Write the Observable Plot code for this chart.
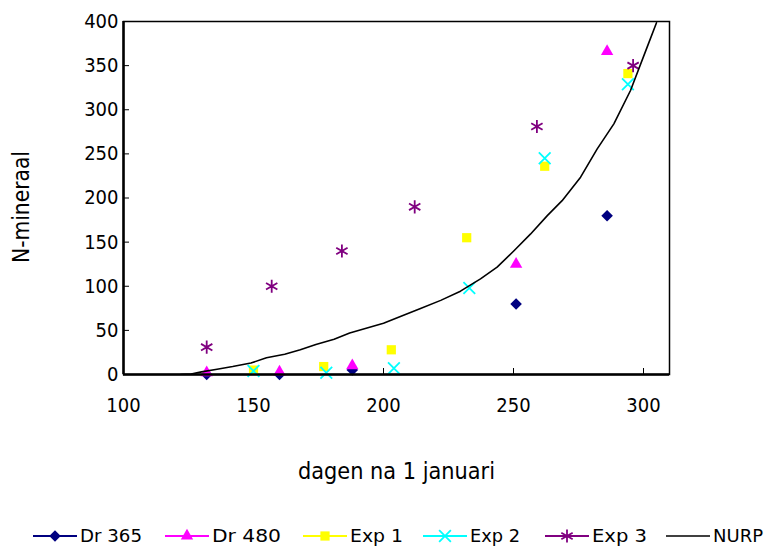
<!DOCTYPE html>
<html>
<head>
<meta charset="utf-8">
<script src="https://cdn.jsdelivr.net/npm/d3@7"></script>
<script src="https://cdn.jsdelivr.net/npm/@observablehq/plot@0.6"></script>
<style>
  body { margin: 0; background: #fff; }
  #wrap { position: relative; width: 764px; height: 546px; overflow: hidden; }
  #legend { position: absolute; left: 0; top: 506px; }
</style>
</head>
<body>
<div id="wrap"></div>
<script>
const FONT = "'DejaVu Sans Condensed', 'DejaVu Sans', sans-serif";

// ---- data ----
const dr365Days = [132, 160, 188, 251, 286];
const dr365Vals = [0, 0, 5, 80, 180];
const dr480Days = [132, 160, 188, 251, 286];
const dr480Vals = [2, 3, 10, 125, 366];
const exp1Days = [150, 177, 203, 232, 262, 294];
const exp1Vals = [5, 9, 28, 155, 236, 341];
const exp2Days = [150, 178, 204, 233, 262, 294];
const exp2Vals = [4, 2, 7, 98, 245, 329];
const exp3Days = [132, 157, 184, 212, 259, 296];
const exp3Vals = [31, 100, 140, 190, 281, 350];
const nurpDays = [122, 126, 130, 136, 142, 149, 155, 162, 168, 174, 181, 187, 194, 200, 206.5, 214, 222, 229.6, 237.3, 243.7, 250, 256.5, 263, 268.7, 275.8, 282.2, 288.6, 295, 301.4, 305];
const nurpVals = [0, 0.5, 3, 6, 9, 13, 19, 23, 28, 34, 40, 47, 53, 58, 65.7, 74.4, 84, 94.4, 108.4, 121.6, 139.7, 159, 180, 197, 223.6, 255.7, 284, 321.8, 371, 398.5];
const xTicks = [100, 150, 200, 250, 300];
const yTicks = [0, 50, 100, 150, 200, 250, 300, 350, 400];

const series = [
  {name: "Dr 365", days: dr365Days, vals: dr365Vals, symbol: "diamond2", color: "#000080", filled: true, r: 5.2},
  {name: "Dr 480", days: dr480Days, vals: dr480Vals, symbol: "triangle", color: "#FF00FF", filled: true, r: 4.6},
  {name: "Exp 1", days: exp1Days, vals: exp1Vals, symbol: "square", color: "#FFFF00", filled: true, r: 5.2},
  {name: "Exp 2", days: exp2Days, vals: exp2Vals, symbol: "times", color: "#00FFFF", filled: false, r: 5.4},
  {name: "Exp 3", days: exp3Days, vals: exp3Vals, symbol: "asterisk", color: "#800080", filled: false, r: 6.2}
];
const toRows = s => s.days.map((d, i) => ({day: d, val: s.vals[i]}));
const nurp = nurpDays.map((d, i) => ({day: d, val: nurpVals[i]}));

const dotMarks = series.map(s => Plot.dot(toRows(s), {
  x: "day", y: "val", symbol: () => s.symbol, r: s.r,
  fill: s.filled ? s.color : "none",
  stroke: s.filled ? "none" : s.color,
  strokeWidth: s.filled ? 0 : 1.8
}));

const chart = Plot.plot({
  width: 764, height: 546,
  marginLeft: 123, marginRight: 95, marginTop: 21, marginBottom: 172,
  style: {fontFamily: FONT, fontSize: "20px", color: "#000", background: "#fff"},
  x: {domain: [100, 310]},
  y: {domain: [0, 400]},
  symbol: {type: "identity"},
  marks: [
    Plot.frame({stroke: "#000", strokeWidth: 1.5}),
    Plot.axisY({ticks: yTicks, tickSize: 6, dx: 6, tickPadding: 5, label: null}),
    Plot.axisY({ticks: [], label: "N-mineraal", labelAnchor: "center", labelArrow: "none", labelOffset: 111, fontSize: 23}),
    Plot.axisX({ticks: xTicks, tickSize: 6, dy: -6, tickPadding: 23, label: null}),
    Plot.axisX({ticks: [], label: "dagen na 1 januari", labelAnchor: "center", labelArrow: "none", labelOffset: 104, fontSize: 23}),
    ...dotMarks,
    Plot.line(nurp, {x: "day", y: "val", stroke: "#000", strokeWidth: 1.6, clip: true}),
    Plot.ruleX([100], {stroke: "#000", strokeWidth: 2.5}),
    Plot.ruleY([0], {stroke: "#000", strokeWidth: 2.5})
  ]
});
// fit axis label widths/positions to the reference
d3.select(chart).selectAll("text").each(function() {
  const t = this.textContent;
  if (t === "dagen na 1 januari") d3.select(this).attr("textLength", 197).attr("lengthAdjust", "spacingAndGlyphs");
  if (t === "N-mineraal") d3.select(this).attr("textLength", 112).attr("lengthAdjust", "spacingAndGlyphs").attr("dx", -9);
});
document.getElementById("wrap").appendChild(chart);

// ---- legend ----
const legendItems = [
  {s: series[0], x0: 33, w: 62},
  {s: series[1], x0: 165, w: 69},
  {s: series[2], x0: 303, w: 53},
  {s: series[3], x0: 423, w: 50},
  {s: series[4], x0: 545, w: 55},
  {s: {name: "NURP", color: "#000", symbol: null}, x0: 666, w: 50}
];
const symMap = {diamond2: d3.symbolDiamond2, triangle: d3.symbolTriangle, square: d3.symbolSquare, times: d3.symbolTimes, asterisk: d3.symbolAsterisk};
const lg = d3.select("#wrap").append("svg").attr("id", "legend").attr("width", 764).attr("height", 40)
  .style("font-family", FONT).style("font-size", "18px");
const ly = 30;
legendItems.forEach(({s, x0, w}) => {
  const g = lg.append("g");
  g.append("line").attr("x1", x0).attr("x2", x0 + 44).attr("y1", ly).attr("y2", ly)
    .attr("stroke", s.color).attr("stroke-width", s.symbol ? 2 : 1.6);
  if (s.symbol) {
    g.append("path").attr("transform", `translate(${x0 + 22},${ly})`)
      .attr("d", d3.symbol(symMap[s.symbol], s.r * s.r * Math.PI)())
      .attr("fill", s.filled ? s.color : "none")
      .attr("stroke", s.filled ? "none" : s.color)
      .attr("stroke-width", 1.8);
  }
  g.append("text").attr("x", x0 + 47).attr("y", ly).attr("dy", "0.32em")
    .attr("textLength", w).attr("lengthAdjust", "spacingAndGlyphs").text(s.name);
});
</script>
</body>
</html>
